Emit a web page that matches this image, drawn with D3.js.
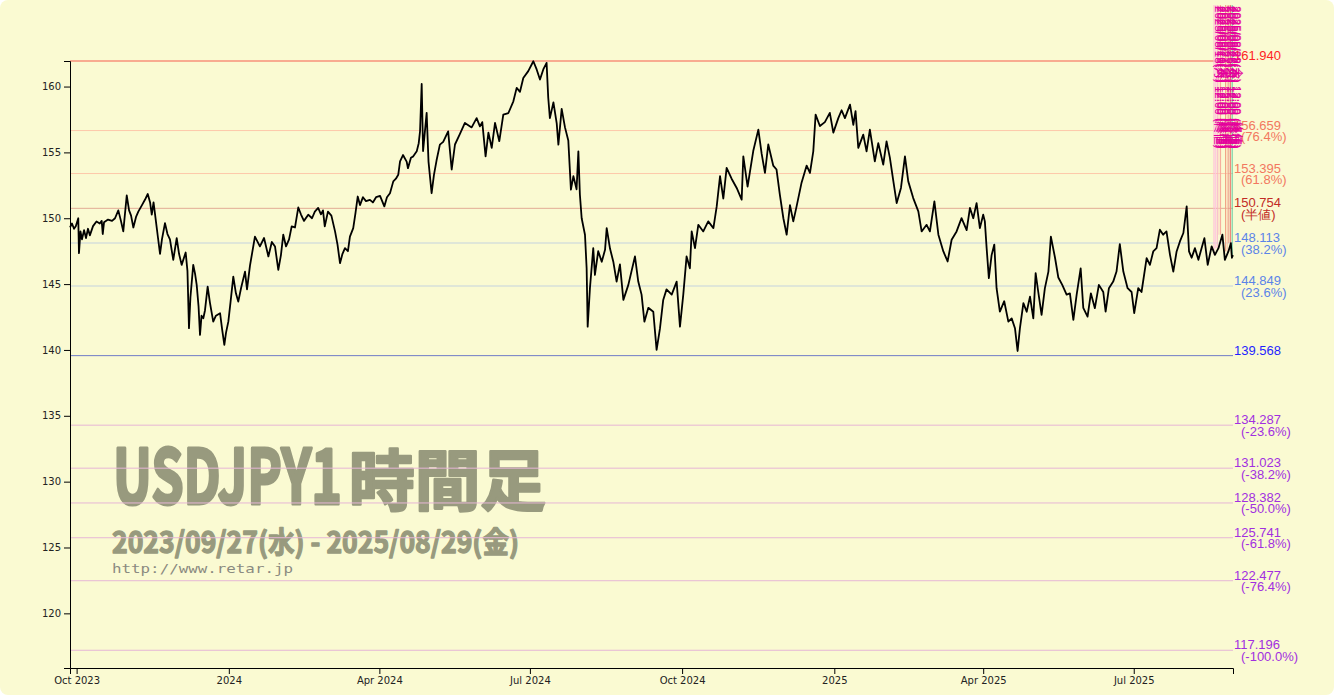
<!DOCTYPE html>
<html><head><meta charset="utf-8">
<script src="https://cdn.jsdelivr.net/npm/d3@7"></script>
<style>
html,body{margin:0;padding:0;background:#ffffff;}
svg{display:block;}
</style></head>
<body>
<script>
// ---------- DATA ----------
const times = [
"2023-09-27 00","2023-09-28 05","2023-09-29 10","2023-09-30 12","2023-10-02 00","2023-10-02 10","2023-10-03 08","2023-10-04 06","2023-10-05 12","2023-10-06 16",
"2023-10-07 21","2023-10-09 00","2023-10-10 22","2023-10-13 00","2023-10-15 00","2023-10-16 04","2023-10-16 19","2023-10-17 14","2023-10-20 00","2023-10-22 10",
"2023-10-24 05","2023-10-26 05","2023-10-27 19","2023-10-29 05","2023-10-31 07","2023-11-01 17","2023-11-02 22","2023-11-04 07","2023-11-05 22","2023-11-07 07",
"2023-11-09 12","2023-11-11 07","2023-11-13 00","2023-11-14 10","2023-11-15 10","2023-11-16 12","2023-11-18 00","2023-11-19 05","2023-11-20 10","2023-11-21 14",
"2023-11-23 10","2023-11-24 22","2023-11-26 10","2023-11-28 10","2023-11-30 12","2023-12-01 22","2023-12-03 12","2023-12-05 22","2023-12-07 00","2023-12-07 22",
"2023-12-08 19","2023-12-10 12","2023-12-11 14","2023-12-12 14","2023-12-13 17","2023-12-14 14","2023-12-15 12","2023-12-16 14","2023-12-17 14","2023-12-19 05",
"2023-12-20 14","2023-12-22 14","2023-12-24 05","2023-12-26 17","2023-12-27 22","2023-12-29 07","2023-12-30 07","2023-12-31 17","2024-01-02 00","2024-01-03 17",
"2024-01-05 07","2024-01-06 17","2024-01-08 10","2024-01-10 19","2024-01-12 00","2024-01-13 19","2024-01-16 19","2024-01-19 19","2024-01-22 07","2024-01-24 22",
"2024-01-27 00","2024-01-28 22","2024-01-30 22","2024-02-01 12","2024-02-02 22","2024-02-04 14","2024-02-06 10","2024-02-08 00","2024-02-10 00","2024-02-12 00",
"2024-02-13 14","2024-02-15 10","2024-02-18 00","2024-02-20 07","2024-02-22 00","2024-02-24 00","2024-02-25 17","2024-02-26 22","2024-02-28 00","2024-02-29 22",
"2024-03-03 00","2024-03-05 05","2024-03-06 17","2024-03-08 05","2024-03-09 17","2024-03-11 05","2024-03-13 00","2024-03-14 05","2024-03-16 05","2024-03-17 14",
"2024-03-18 22","2024-03-20 07","2024-03-22 02","2024-03-23 22","2024-03-26 07","2024-03-28 02","2024-03-30 00","2024-04-01 10","2024-04-04 00","2024-04-05 14",
"2024-04-07 10","2024-04-09 10","2024-04-11 00","2024-04-12 10","2024-04-13 12","2024-04-15 07","2024-04-17 12","2024-04-18 07","2024-04-20 02","2024-04-21 12",
"2024-04-23 14","2024-04-24 19","2024-04-25 14","2024-04-26 14","2024-04-27 10","2024-04-29 14","2024-04-30 17","2024-05-02 14","2024-05-04 00","2024-05-05 14",
"2024-05-07 14","2024-05-09 14","2024-05-12 14","2024-05-14 17","2024-05-16 17","2024-05-19 17","2024-05-22 17","2024-05-26 19","2024-05-29 19","2024-05-31 19",
"2024-06-02 05","2024-06-04 05","2024-06-05 22","2024-06-07 22","2024-06-09 22","2024-06-12 12","2024-06-14 22","2024-06-18 00","2024-06-21 00","2024-06-23 00",
"2024-06-25 00","2024-06-27 00","2024-06-30 00","2024-07-03 02","2024-07-05 02","2024-07-07 02","2024-07-09 02","2024-07-11 02","2024-07-12 02","2024-07-13 02",
"2024-07-15 05","2024-07-17 05","2024-07-18 05","2024-07-20 05","2024-07-22 05","2024-07-24 05","2024-07-25 19","2024-07-27 07","2024-07-29 05","2024-07-30 07",
"2024-07-31 05","2024-08-01 07","2024-08-03 07","2024-08-04 07","2024-08-04 22","2024-08-06 07","2024-08-08 07","2024-08-09 07","2024-08-11 07","2024-08-13 10",
"2024-08-15 10","2024-08-16 10","2024-08-18 10","2024-08-20 10","2024-08-22 10","2024-08-24 10","2024-08-26 12","2024-08-29 12","2024-09-02 12","2024-09-04 12",
"2024-09-06 12","2024-09-08 05","2024-09-10 14","2024-09-13 14","2024-09-15 14","2024-09-17 14","2024-09-19 14","2024-09-21 14","2024-09-24 17","2024-09-27 17",
"2024-09-29 17","2024-10-01 17","2024-10-03 17","2024-10-05 17","2024-10-06 19","2024-10-08 19","2024-10-10 19","2024-10-13 19","2024-10-16 19","2024-10-19 22",
"2024-10-21 22","2024-10-23 22","2024-10-25 22","2024-10-27 22","2024-10-30 22","2024-11-03 00","2024-11-06 00","2024-11-07 00","2024-11-09 14","2024-11-13 00",
"2024-11-16 02","2024-11-18 02","2024-11-20 02","2024-11-22 02","2024-11-25 02","2024-11-27 02","2024-11-29 02","2024-12-01 05","2024-12-03 05","2024-12-05 05",
"2024-12-07 05","2024-12-09 05","2024-12-12 05","2024-12-15 07","2024-12-17 07","2024-12-19 07","2024-12-20 17","2024-12-23 07","2024-12-26 07","2024-12-29 07",
"2024-12-31 10","2025-01-03 10","2025-01-05 10","2025-01-07 10","2025-01-10 12","2025-01-12 12","2025-01-13 20","2025-01-15 12","2025-01-18 12","2025-01-20 12",
"2025-01-22 12","2025-01-25 12","2025-01-27 14","2025-01-30 14","2025-02-01 14","2025-02-03 14","2025-02-05 17","2025-02-07 17","2025-02-10 07","2025-02-12 17",
"2025-02-14 17","2025-02-17 17","2025-02-20 19","2025-02-22 19","2025-02-25 19","2025-02-27 19","2025-03-02 12","2025-03-04 22","2025-03-07 22","2025-03-10 12",
"2025-03-12 22","2025-03-15 22","2025-03-18 22","2025-03-22 00","2025-03-24 00","2025-03-26 00","2025-03-28 00","2025-03-30 00","2025-04-01 00","2025-04-02 00",
"2025-04-03 02","2025-04-04 10","2025-04-06 02","2025-04-07 17","2025-04-09 02","2025-04-11 02","2025-04-13 17","2025-04-16 05","2025-04-18 05","2025-04-20 05",
"2025-04-21 19","2025-04-23 05","2025-04-25 07","2025-04-27 07","2025-04-29 07","2025-05-01 07","2025-05-02 17","2025-05-04 07","2025-05-06 07","2025-05-08 07",
"2025-05-10 10","2025-05-11 22","2025-05-14 10","2025-05-16 10","2025-05-18 19","2025-05-21 10","2025-05-23 10","2025-05-25 12","2025-05-27 12","2025-05-29 22",
"2025-05-31 12","2025-06-03 02","2025-06-05 02","2025-06-07 12","2025-06-09 22","2025-06-12 14","2025-06-14 00","2025-06-16 00","2025-06-18 14","2025-06-20 14",
"2025-06-22 14","2025-06-24 17","2025-06-27 07","2025-06-29 17","2025-07-01 07","2025-07-03 17","2025-07-05 17","2025-07-08 19","2025-07-10 19","2025-07-12 19",
"2025-07-14 19","2025-07-16 19","2025-07-18 19","2025-07-20 19","2025-07-22 22","2025-07-24 22","2025-07-26 22","2025-07-28 22","2025-07-31 00","2025-08-02 00",
"2025-08-03 10","2025-08-05 00","2025-08-07 00","2025-08-09 02","2025-08-11 00","2025-08-12 17","2025-08-14 17","2025-08-17 02","2025-08-19 02","2025-08-21 05",
"2025-08-23 14","2025-08-25 02","2025-08-27 05","2025-08-28 17","2025-08-29 08","2025-08-29 23"
];
const prices = [
149.3,149.6,149.2,149.4,150.0,147.35,149.0,148.4,149.1,148.5,
149.2,148.7,149.4,149.76,149.6,149.8,148.8,149.7,149.9,149.8,
150.0,150.6,149.8,149.0,151.73,150.6,150.2,149.3,150.1,150.5,
151.0,151.4,151.84,151.2,150.27,151.2,149.7,148.5,147.3,148.4,
149.63,148.8,148.4,146.84,148.49,147.3,146.46,147.4,146.0,141.65,
144.0,146.46,145.8,144.94,143.3,141.14,142.6,142.41,143.0,144.81,
143.6,142.15,142.6,142.79,141.6,140.38,141.3,142.15,143.6,145.57,
144.3,143.67,144.7,145.95,144.6,146.4,148.61,147.86,148.5,147.1,
148.2,147.86,146.08,147.2,148.75,147.86,148.4,149.38,149.3,150.82,
150.3,149.8,150.27,150.0,150.5,150.78,150.3,150.6,149.38,150.5,
150.2,149.0,148.0,146.59,147.3,147.73,147.5,148.6,149.25,150.4,
151.65,151.0,151.6,151.3,151.4,151.2,151.6,151.7,150.9,151.6,
151.9,152.8,153.0,153.3,154.32,154.8,154.3,153.8,154.6,154.7,
155.08,155.7,156.6,160.2,155.1,158.0,154.3,151.9,153.3,154.4,
155.59,155.8,156.6,153.7,155.6,156.4,157.24,156.9,157.6,156.98,
157.3,154.7,156.5,155.34,157.24,155.85,157.87,157.99,158.88,159.9,
159.6,160.65,161.17,161.92,161.3,160.53,161.3,161.8,159.15,157.6,
158.8,157.2,155.59,158.3,156.9,155.9,152.17,153.2,152.2,155.08,
151.8,150.0,148.75,146.2,141.77,144.69,147.73,145.7,147.5,146.7,
147.6,149.25,147.7,146.7,145.19,146.5,143.8,144.94,147.1,145.19,
144.2,142.15,143.2,142.9,140.0,141.6,143.8,144.6,144.2,145.19,
141.77,144.2,147.1,146.2,149.0,147.73,149.5,149.0,149.76,149.25,
150.9,153.19,151.5,153.82,153.0,152.3,151.41,154.7,152.4,155.1,
156.73,154.9,153.44,155.6,154.0,153.7,151.79,150.0,148.75,151.0,
149.76,150.9,152.7,154.0,153.44,155.08,157.87,157.0,157.3,158.0,
156.5,157.6,158.2,157.6,158.63,157.1,158.13,155.34,156.35,155.08,
156.73,154.32,155.7,154.07,155.84,154.6,152.8,151.15,152.3,154.7,
152.8,151.53,150.52,149.0,149.5,149.0,151.28,148.75,147.48,146.72,
148.37,149.0,150.01,149.1,150.78,150.0,151.15,149.25,150.27,149.76,
147.73,145.45,147.2,148.0,144.69,142.91,143.7,142.15,142.4,141.65,
139.92,141.65,143.55,142.9,144.05,142.4,145.83,144.4,142.66,144.69,
145.95,148.61,147.0,145.5,144.94,144.2,144.3,142.28,144.2,146.2,
143.2,142.53,144.3,143.17,144.94,144.4,142.91,144.69,145.19,145.95,
148.03,145.95,144.69,144.4,142.79,144.69,144.4,146.97,146.46,147.48,
147.73,149.13,148.75,149.0,147.22,145.95,147.48,148.24,148.88,150.9,
147.48,147.0,147.73,146.84,147.73,148.49,146.46,147.86,147.22,147.73,
148.75,146.84,147.48,148.11,147.0,147.2
];
const levelValues = [161.940,156.659,153.395,150.754,148.113,144.849,139.568,134.287,131.023,128.382,125.741,122.477,117.196];
const levelNotes  = ["","(76.4%)","(61.8%)","(半値)","(38.2%)","(23.6%)","","(-23.6%)","(-38.2%)","(-50.0%)","(-61.8%)","(-76.4%)","(-100.0%)"];
const yTicks = [120,125,130,135,140,145,150,155,160];
const markerTimes = ["2025-08-18 12","2025-08-19 12","2025-08-20 12","2025-08-21 12","2025-08-22 12","2025-08-25 12","2025-08-26 12","2025-08-27 12","2025-08-28 12","2025-08-29 12"];
const titleMain = "USDJPY1";
const titleJa = "時間足";
const subTitle = "2023/09/27(水) - 2025/08/29(金)";
const siteUrl = "http://www.retar.jp";

// ---------- STYLES ----------
const levelLineColors = ["#f7907a","#fdc8aa","#fdc8aa","#e2ab95","#d6dfda","#d6dfda","#6f7cc6","#e6b6d6","#e6b6d6","#e6b6d6","#e6b6d6","#e6b6d6","#e6b6d6"];
const levelTextColors = ["#ff2424","#f2785f","#f2785f","#c22b25","#5b84e8","#5b84e8","#1f1fff","#a12fe0","#a12fe0","#a12fe0","#a12fe0","#a12fe0","#a12fe0"];
const markerColors = ["#ffb8d8","#ffc4e0","#f8b4cc","#ffcfc0","#f6a898","#f0a184","#f8c0a2","#e99282","#f08878","#5fc8a0"];

const W = 1334, H = 698;
const L = 70, R = 1233, T = 61, B = 668;
const parse = d3.timeParse("%Y-%m-%d %H");
const data = times.map((t,i)=>({t:parse(t), p:prices[i]}));

const svg = d3.select("body").append("svg").attr("width",W).attr("height",H);
svg.append("rect").attr("x",0).attr("y",0).attr("width",W).attr("height",695).attr("rx",8).attr("fill","#fafad2");

const x = d3.scaleTime().domain([parse("2023-09-27 00"), parse("2025-08-30 00")]).range([L,R]);
const y = d3.scaleLinear().domain([115.85,161.94]).range([B,T]);

// watermark
const wmColor = "#989a7e";
const wm = svg.append("g").attr("fill",wmColor).attr("stroke",wmColor).attr("font-weight","bold").attr("stroke-linejoin","round");
const tt = wm.append("text").attr("font-family","'Noto Sans CJK JP', 'DejaVu Sans'");
tt.append("tspan").attr("x",113).attr("y",504).attr("font-size",76).attr("stroke-width",3.2)
  .attr("textLength",229).attr("lengthAdjust","spacingAndGlyphs").text(titleMain);
tt.append("tspan").attr("x",349).attr("y",505).attr("font-size",66).attr("stroke-width",2.6)
  .attr("textLength",197).attr("lengthAdjust","spacingAndGlyphs").text(titleJa);
wm.append("text").attr("x",112).attr("y",553).attr("font-family","'Noto Sans CJK JP', 'DejaVu Sans'")
  .attr("font-size",29).attr("stroke-width",1.3).attr("textLength",407).attr("lengthAdjust","spacingAndGlyphs").text(subTitle);
svg.append("text").attr("x",112).attr("y",573).attr("font-family","'DejaVu Sans Mono', monospace")
  .attr("font-size",13).attr("fill","#8a8a80").attr("textLength",181).attr("lengthAdjust","spacingAndGlyphs").text(siteUrl);

// level lines
const lv = svg.append("g");
levelValues.forEach((v,i)=>{
  lv.append("line").attr("x1",L).attr("x2",R).attr("y1",y(v)).attr("y2",y(v))
    .attr("stroke",levelLineColors[i]).attr("stroke-width", i===0?1.6:(i===4||i===5?1.5:1));
  const g = lv.append("text").attr("fill",levelTextColors[i]).attr("font-family","'Liberation Sans', Arial, sans-serif").attr("font-size",13);
  g.append("tspan").attr("x",R+1).attr("y",y(v)-1).text(v.toFixed(3));
  if (levelNotes[i]) g.append("tspan").attr("x",R+8).attr("y",y(v)+10.5).text(levelNotes[i]);
});

// markers (vertical lines with rotated labels)
const wk = ["日","月","火","水","木","金","土"];
const mk = svg.append("g");
const bis = d3.bisector(d=>d.t).left;
markerTimes.forEach((s,i)=>{
  const t = parse(s);
  const j = Math.min(bis(data,t), data.length-1);
  const xv = x(t);
  mk.append("line").attr("x1",xv).attr("x2",xv).attr("y1",5).attr("y2",y(data[j].p))
    .attr("stroke",markerColors[i]).attr("stroke-width",1);
});
markerTimes.forEach((s,i)=>{
  const t = parse(s);
  const xv = x(t);
  const lab = d3.timeFormat("%Y/%m/%d")(t)+"("+wk[t.getDay()]+") "+d3.timeFormat("%H:00")(t)+" (終値)";
  mk.append("text").attr("transform",`translate(${xv+1},6) rotate(90)`)
    .attr("font-family","'Liberation Sans', 'Noto Sans CJK JP', sans-serif").attr("font-size",11.5)
    .attr("fill","#e4009c").text(lab);
});

// price line
svg.append("path").datum(data)
  .attr("fill","none").attr("stroke","#000").attr("stroke-width",1.8).attr("stroke-linejoin","round")
  .attr("d", d3.line().x(d=>x(d.t)).y(d=>y(d.p)));

// axes
const fmt = d=> d.getMonth()===0 ? d3.timeFormat("%Y")(d) : d3.timeFormat("%b %Y")(d);
const gx = svg.append("g").attr("transform",`translate(0,${B})`)
  .call(d3.axisBottom(x).ticks(d3.timeMonth.every(3)).tickFormat(fmt));
const gy = svg.append("g").attr("transform",`translate(${L},0)`)
  .call(d3.axisLeft(y).tickValues(yTicks));
[gx,gy].forEach(g=>{
  g.attr("font-family","'DejaVu Sans', Verdana, sans-serif").attr("font-size",10);
  g.selectAll("text").attr("fill","#222");
});
</script>
</body></html>
